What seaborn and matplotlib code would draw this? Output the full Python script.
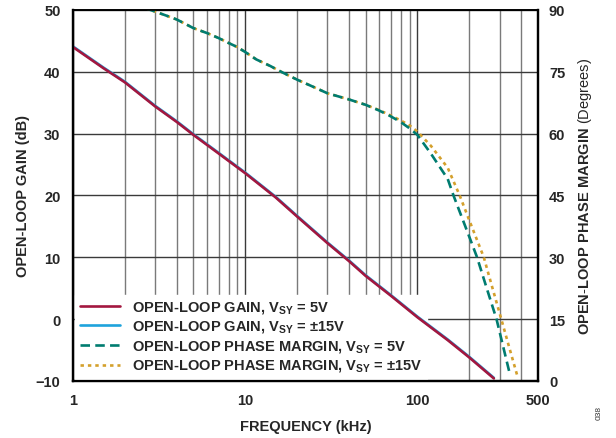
import numpy as np
import pandas as pd
import matplotlib
matplotlib.use("Agg")
import matplotlib.pyplot as plt
import seaborn as sns
from matplotlib.ticker import FixedLocator, NullFormatter

# open-loop gain (dB) vs frequency (kHz)
gain_freq = [1, 1.5, 2, 3, 4, 5, 7, 10, 15, 20, 30, 40, 50, 70, 100, 150, 200, 278]
gain_5v = [44.0, 40.6, 38.3, 34.4, 31.9, 29.8, 26.8, 23.6, 19.7, 16.6, 12.3, 9.4, 7.0,
           3.8, 0.3, -3.4, -6.2, -9.6]
gain_15v = [44.1, 40.7, 38.4, 34.5, 32.0, 29.9, 26.9, 23.7, 19.8, 16.7, 12.4, 9.5, 7.1,
            3.9, 0.4, -3.3, -6.1, -9.5]

# phase margin (degrees) vs frequency (kHz)
pm5_freq = [2.65, 3, 3.5, 4, 4.5, 5, 6, 7, 8, 9, 10, 11.6, 14, 16, 20, 25, 30, 40, 50,
            60, 70, 80, 90, 100, 120, 150, 162, 200, 222, 250, 288, 320, 344]
pm5 = [90.4, 89.6, 88.6, 87.7, 86.6, 85.6, 84.4, 83.2, 82.0, 81.0, 79.8, 78.0, 76.4,
       75.1, 73.1, 71.3, 69.8, 68.3, 67.0, 65.6, 64.2, 62.8, 61.3, 59.7, 55.1, 49.0,
       45.0, 35.0, 30.0, 23.1, 15.0, 7.1, 1.7]
pm15_freq = [2.65, 3, 3.5, 4, 4.5, 5, 6, 7, 8, 9, 10, 11.6, 14, 16, 20, 25, 30, 40, 50,
             60, 70, 80, 90, 100, 120, 150, 176, 200, 243, 270, 307, 340, 380]
pm15 = [90.4, 89.6, 88.6, 87.7, 86.6, 85.6, 84.4, 83.2, 82.0, 81.0, 79.8, 78.0, 76.4,
        75.1, 73.1, 71.3, 69.8, 68.3, 67.0, 65.7, 64.4, 63.2, 62.0, 60.5, 57.0, 51.7,
        45.0, 39.0, 30.0, 23.2, 15.0, 8.4, 1.3]

x_major = [1, 10, 100, 500]
x_minor = [2, 3, 4, 5, 6, 7, 8, 9, 20, 30, 40, 50, 60, 70, 80, 90, 200, 300, 400]
gain_ticks = [-10, 0, 10, 20, 30, 40, 50]
phase_ticks = [0, 15, 30, 45, 60, 75, 90]

RED = "#a3173f"
BLUE = "#1ea3dc"
TEAL = "#007c70"
GOLD = "#d4a02c"

sns.set_style("white")
plt.rcParams["font.family"] = ["Liberation Sans", "DejaVu Sans"]
plt.rcParams["mathtext.fontset"] = "custom"
plt.rcParams["mathtext.rm"] = "Liberation Sans"
plt.rcParams["mathtext.bf"] = "Liberation Sans:bold"

fig, ax = plt.subplots(figsize=(6.16, 4.39), dpi=100)
fig.subplots_adjust(left=0.1185, right=0.873, top=0.975, bottom=0.130)
ax2 = ax.twinx()

gain_df = pd.DataFrame({"freq": gain_freq, "g5": gain_5v, "g15": gain_15v})
pm5_df = pd.DataFrame({"freq": pm5_freq, "pm": pm5})
pm15_df = pd.DataFrame({"freq": pm15_freq, "pm": pm15})

sns.lineplot(data=gain_df, x="freq", y="g15", ax=ax, color=BLUE, linewidth=1.9,
             label=r"OPEN-LOOP GAIN, V$_{\mathbf{SY}}$ = ±15V", zorder=6)
sns.lineplot(data=gain_df, x="freq", y="g5", ax=ax, color=RED, linewidth=1.9,
             label=r"OPEN-LOOP GAIN, V$_{\mathbf{SY}}$ = 5V", zorder=7)
sns.lineplot(data=pm15_df, x="freq", y="pm", ax=ax2, color=GOLD, linewidth=1.9,
             linestyle=(0, (1.3, 1.5)),
             label=r"OPEN-LOOP PHASE MARGIN, V$_{\mathbf{SY}}$ = ±15V")
sns.lineplot(data=pm5_df, x="freq", y="pm", ax=ax2, color=TEAL, linewidth=1.9,
             linestyle=(0, (3.6, 2.0)),
             label=r"OPEN-LOOP PHASE MARGIN, V$_{\mathbf{SY}}$ = 5V")

for a in (ax, ax2):
    a.set_xscale("log")
    a.set_xlim(1, 500)
    if a.get_legend() is not None:
        a.get_legend().remove()

ax.set_ylim(-10, 50)
ax2.set_ylim(0, 90)
ax.xaxis.set_major_locator(FixedLocator(x_major))
ax.xaxis.set_minor_locator(FixedLocator(x_minor))
ax.xaxis.set_minor_formatter(NullFormatter())
ax.set_xticklabels(["1", "10", "100", "500"])
ax.set_yticks(gain_ticks)
ax2.set_yticks(phase_ticks)

ax.set_axisbelow(True)
ax.grid(True, which="major", axis="y", color="#3a3a3a", linewidth=1.0)
ax.grid(True, which="major", axis="x", color="#3a3a3a", linewidth=1.0)
ax.grid(True, which="minor", axis="x", color="#7a7a7a", linewidth=1.0)

for a in (ax, ax2):
    a.tick_params(which="both", length=0)
    for lab in a.get_xticklabels() + a.get_yticklabels():
        lab.set_fontweight("bold")
        lab.set_fontsize(10.5)
ax.tick_params(axis="y", pad=9)
ax.tick_params(axis="x", pad=9)
ax2.tick_params(axis="y", pad=8)

for s in ax.spines.values():
    s.set_color("black")
    s.set_linewidth(1.6)
for s in ax2.spines.values():
    s.set_color("black")
    s.set_linewidth(1.6)
ax.spines["top"].set_linewidth(1.2)
ax2.spines["top"].set_linewidth(1.2)

ax.set_xlabel("FREQUENCY (kHz)", fontsize=10.5, fontweight="bold", labelpad=8)
ax.set_ylabel("OPEN-LOOP GAIN (dB)", fontsize=10.5, fontweight="bold", labelpad=4)
# bold title part via mathtext, "(Degrees)" stays regular
ax2.set_ylabel(r"$\mathbf{OPEN}$-$\mathbf{LOOP\ PHASE\ MARGIN}$ (Degrees)",
               fontsize=10.5, labelpad=8)

l1, l2 = ax.get_lines()[:2]
l3, l4 = ax2.get_lines()[:2]
handles = [l2, l1, l4, l3]
labels = [h.get_label() for h in handles]
leg = ax.legend(handles, labels, loc="lower left", frameon=True, fancybox=False,
                framealpha=1, edgecolor="white", facecolor="white",
                prop={"weight": "bold", "size": 10.5}, handlelength=2.8,
                handletextpad=0.8, labelspacing=0.22, borderaxespad=0.15,
                borderpad=0.3)
leg.set_zorder(5)

fig.text(0.972, 0.06, "038", rotation=90, fontsize=6, color="#333333",
         ha="center", va="center")

fig.savefig("out.png", dpi=100)
